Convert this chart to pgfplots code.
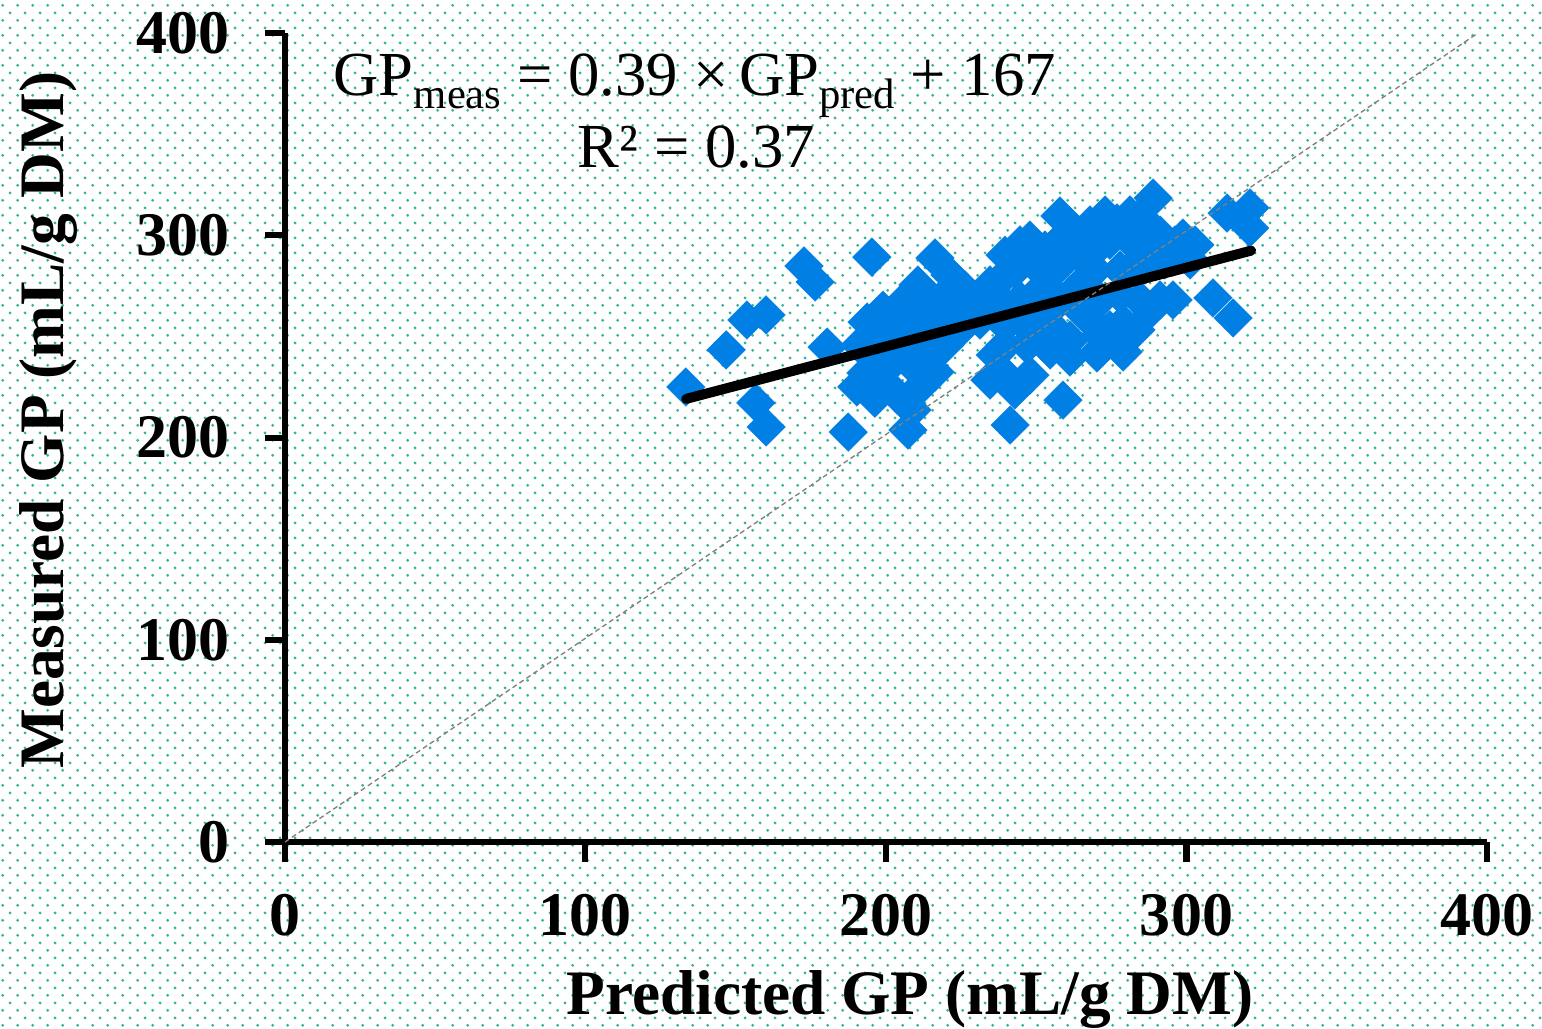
\documentclass[border=0pt]{standalone}
\usepackage{pgfplots}
\pgfplotsset{compat=1.18}
\usepackage{pgfplotstable}
\usepackage{fontspec}
\setmainfont{Liberation Serif}
\usetikzlibrary{patterns}
\pgfdeclarepatternformonly{bgdots}{\pgfqpoint{0pt}{0pt}}{\pgfqpoint{4.6pt}{4.6pt}}{\pgfqpoint{4.6pt}{4.6pt}}{%
 \pgfpathcircle{\pgfqpoint{1.15pt}{1.15pt}}{0.48pt}%
 \pgfpathcircle{\pgfqpoint{3.45pt}{3.45pt}}{0.48pt}%
 \pgfusepath{fill}}
\definecolor{dotteal}{RGB}{50,180,155}
\definecolor{ptblue}{RGB}{0,127,228}

\pgfplotstableread{
x y
133.4 225.0
146.8 243.3
153.7 258.1
160.1 260.6
156.7 217.1
160.1 205.2
172.7 284.8
176.4 276.9
180.4 244.7
187.4 202.7
195.3 289.2
207.3 203.7
216.3 288.8
193.7 257.1
199.0 263.0
206.3 268.0
210.6 275.4
221.3 280.3
226.3 272.9
191.3 245.7
196.3 239.3
193.3 231.9
198.7 226.0
203.7 221.0
196.3 219.5
190.3 225.0
208.7 235.8
212.0 226.0
208.7 213.6
216.3 232.4
219.6 245.7
224.6 253.2
218.0 258.1
212.9 250.7
206.3 245.7
201.3 250.7
231.3 258.1
237.9 233.4
236.3 240.8
234.6 268.0
239.6 280.3
244.6 295.2
242.9 282.8
249.6 285.3
252.9 275.4
247.9 268.0
257.9 309.5
257.9 285.3
262.9 300.1
267.9 305.1
276.9 306.1
271.2 295.2
281.2 297.6
284.5 309.0
288.9 318.4
298.8 298.6
301.2 287.8
292.8 287.8
286.2 285.3
277.9 282.8
266.2 277.9
261.2 270.5
271.2 268.0
277.9 270.5
295.5 268.0
287.9 263.0
278.9 256.6
278.9 242.3
270.2 241.8
274.5 253.2
267.9 258.1
261.2 239.8
257.9 250.7
252.9 258.1
246.9 245.7
241.3 258.1
244.6 268.0
237.9 268.0
242.9 223.5
247.9 230.9
234.6 228.4
241.3 206.2
258.9 218.5
254.6 243.3
251.3 250.7
239.6 245.7
228.0 263.0
223.0 268.0
247.9 297.6
308.8 269.0
315.5 259.1
313.5 311.0
321.1 313.5
321.1 303.6
218.0 268.0
234.6 275.4
239.6 290.2
229.6 268.0
252.9 292.7
257.9 297.6
264.6 290.2
269.5 282.8
274.5 297.6
272.9 310.0
281.2 310.0
291.2 300.1
287.9 292.7
296.2 295.2
302.8 295.2
281.2 282.8
257.9 268.0
264.6 263.0
251.3 265.5
244.6 258.1
237.9 258.1
254.6 253.2
261.2 248.2
271.2 250.7
283.2 253.2
291.2 268.0
284.5 268.0
221.3 253.2
214.6 245.7
204.6 258.1
209.7 258.1
214.6 263.0
197.9 245.7
202.9 238.3
211.3 240.8
199.7 233.4
}\gpdata

\begin{document}
\begin{tikzpicture}
\fill[white] (-85.5pt,-55.8pt) rectangle (377.1pt,252.6pt);
\fill[pattern=bgdots, pattern color=dotteal] (-85.5pt,-55.8pt) rectangle (377.1pt,252.6pt);
\begin{axis}[
  at={(0,0)}, anchor=south west,
  scale only axis, width=360.6pt, height=242.7pt,
  xmin=0, xmax=400, ymin=0, ymax=400,
  axis x line*=bottom, axis y line*=left,
  axis line style={line width=1.8pt, black},
  xtick={0,100,200,300,400}, ytick={0,100,200,300,400},
  tick align=outside, major tick length=6pt,
  tick style={line width=1.8pt, black},
  /pgf/number format/assume math mode=true,
  ticklabel style={font=\fontsize{18.6}{20}\selectfont\bfseries},
  yticklabel style={xshift=-7pt},
  xticklabel style={yshift=-6pt},
  xlabel={Predicted GP (mL/g DM)},
  ylabel={Measured GP (mL/g DM)},
  label style={font=\fontsize{19}{22}\selectfont\bfseries},
  xlabel style={at={(axis description cs:0.52,-0.2126)}, anchor=base},
  ylabel style={at={(axis description cs:-0.1839,0.5216)}, anchor=base},
  clip=false, clip marker paths=true,
]
\addplot[color=ptblue, only marks, mark=square*, mark size=4.1pt,
  mark options={rotate=45, fill=ptblue, draw=ptblue, line width=0.1pt}]
  table[x=x, y=y] {\gpdata};
\addplot[black, line width=3pt, line cap=round] coordinates {(133.5,219.1) (321.5,292.4)};
\addplot[gray, line width=0.4pt, dash pattern=on 1.5pt off 1pt] coordinates {(0,0) (397,400)};
\node[anchor=base west, inner sep=0pt, font=\fontsize{18.8}{22}\selectfont] at (axis cs:16,369.3)
  {GP\raisebox{-4pt}{\fontsize{12.8}{14}\selectfont meas} = 0.39 ×\,GP\raisebox{-4pt}{\fontsize{12.8}{14}\selectfont pred} + 167};
\node[anchor=base west, inner sep=0pt, font=\fontsize{18.8}{22}\selectfont] at (axis cs:97.2,333.7)
  {R² = 0.37};
\end{axis}
\pgfresetboundingbox
\useasboundingbox (-85.5pt,-55.8pt) rectangle (377.1pt,252.6pt);
\end{tikzpicture}
\end{document}
